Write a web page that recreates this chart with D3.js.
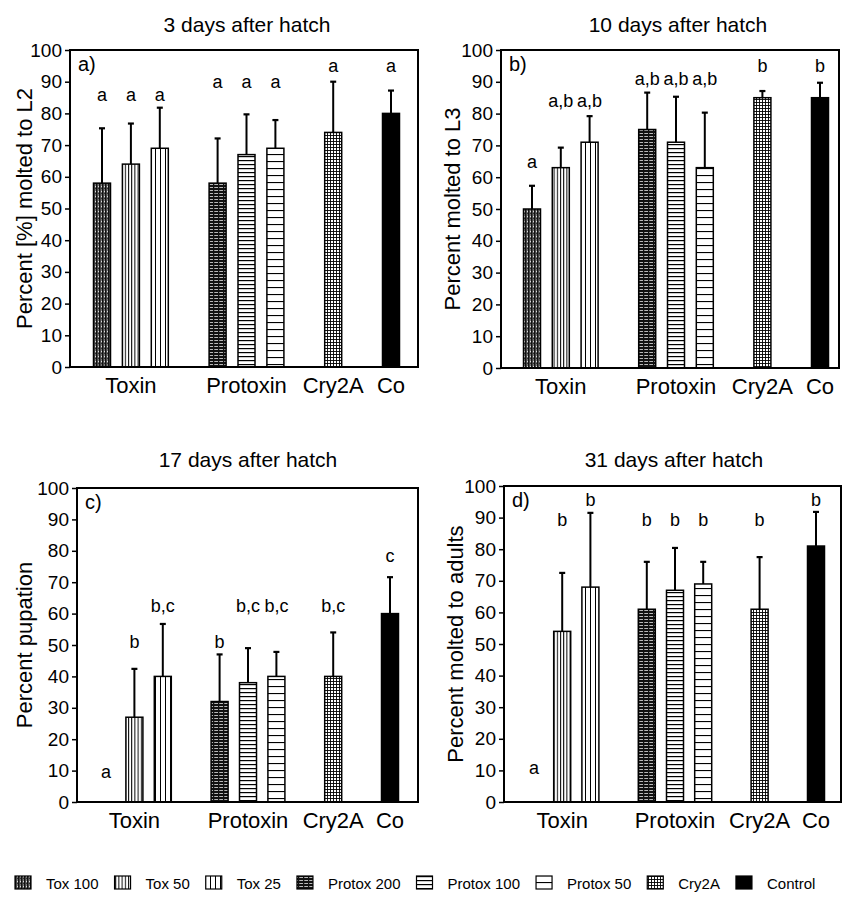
<!DOCTYPE html>
<html><head><meta charset="utf-8">
<script src="https://cdn.jsdelivr.net/npm/d3@7"></script>
<style>
body{margin:0;background:#fff}
svg{display:block}
text{font-family:"Liberation Sans",Arial,Helvetica,sans-serif;fill:#000}
</style>
</head><body>
<svg id="chart" width="842" height="903"></svg>
<script>
// ---------- data ----------
const treatments = ['Tox 100','Tox 50','Tox 25','Protox 200','Protox 100','Protox 50','Cry2A','Control'];
const treatmentGroup = ['Toxin','Toxin','Toxin','Protoxin','Protoxin','Protoxin','Cry2A','Co'];
const groupLabels = ['Toxin','Protoxin','Cry2A','Co'];
const yTicks = [0,10,20,30,40,50,60,70,80,90,100];

// a) 3 days after hatch – percent molted to L2
const meanA    = [58, 64, 69, 58, 67, 69, 74, 80];
const errTopA  = [75.3, 76.8, 81.8, 72.1, 79.7, 77.9, 90, 87.2];
const lettersA = ['a','a','a','a','a','a','a','a'];
const letterHA = [84, 84, 84, 88, 88, 88, 93, 93];

// b) 10 days after hatch – percent molted to L3
const meanB    = [50, 63, 71, 75, 71, 63, 85, 85];
const errTopB  = [57.3, 69.3, 79.2, 86.6, 85.3, 80.3, 87.1, 89.7];
const lettersB = ['a','a,b','a,b','a,b','a,b','a,b','b','b'];
const letterHB = [63, 82, 82, 89, 89, 89, 93, 93];

// c) 17 days after hatch – percent pupation
const meanC    = [0, 27, 40, 32, 38, 40, 40, 60];
const errTopC  = [0, 42.4, 56.7, 47, 49, 47.8, 54, 71.6];
const lettersC = ['a','b','b,c','b','b,c','b,c','b,c','c'];
const letterHC = [7.6, 49, 60.5, 49, 60.5, 60.5, 60.5, 76.4];

// d) 31 days after hatch – percent molted to adults
const meanD    = [0, 54, 68, 61, 67, 69, 61, 81];
const errTopD  = [0, 72.5, 91.5, 76, 80.4, 76, 77.5, 91.8];
const lettersD = ['a','b','b','b','b','b','b','b'];
const letterHD = [9, 87.3, 93.7, 87.3, 87.3, 87.3, 87.3, 93.7];

// ---------- layout ----------
const panels = [
  {tag:'a)', title:'3 days after hatch',  ylabel:'Percent [%] molted to L2', mean:meanA, err:errTopA, letters:lettersA, letterH:letterHA,
   left:70, right:418, top:50, bottom:367, c0:102, c10:391, titleX:247, titleY:32, ylabX:32},
  {tag:'b)', title:'10 days after hatch', ylabel:'Percent molted to L3', mean:meanB, err:errTopB, letters:lettersB, letterH:letterHB,
   left:501, right:839, top:50, bottom:368, c0:532, c10:820, titleX:678, titleY:32, ylabX:460},
  {tag:'c)', title:'17 days after hatch', ylabel:'Percent pupation', mean:meanC, err:errTopC, letters:lettersC, letterH:letterHC,
   left:77, right:418, top:488, bottom:802, c0:106, c10:390, titleX:248, titleY:467, ylabX:32},
  {tag:'d)', title:'31 days after hatch', ylabel:'Percent molted to adults', mean:meanD, err:errTopD, letters:lettersD, letterH:letterHD,
   left:504, right:841, top:486, bottom:802, c0:534, c10:816, titleX:674, titleY:467, ylabX:463}
];

// slot index of each treatment: groups separated by one empty slot
const slotIndex = [];
{ let s = -1, prev = null;
  treatmentGroup.forEach(g => { s += (prev !== null && g !== prev) ? 2 : 1; prev = g; slotIndex.push(s); }); }
const groupSlot = groupLabels.map(g => d3.mean(slotIndex.filter((s,i)=>treatmentGroup[i]===g)));

const svg = d3.select('#chart');
svg.append('rect').attr('width',842).attr('height',903).attr('fill','#fff');

// ---------- patterns ----------
const defs = svg.append('defs');
function pat(id, w, h, build){
  const p = defs.append('pattern').attr('id',id).attr('patternUnits','userSpaceOnUse')
    .attr('width',w).attr('height',h);
  build(p);
}
const patternIds = ['p-tox100','p-tox50','p-tox25','p-pro200','p-pro100','p-pro50','p-cry','p-co'];
pat('p-tox100',3,5,p=>{
  p.append('rect').attr('width',3).attr('height',5).attr('fill','#7a7a7a');
  p.append('rect').attr('x',0).attr('width',1.5).attr('height',5).attr('fill','#111');
  p.append('rect').attr('x',2).attr('y',1).attr('width',1).attr('height',1).attr('fill','#ddd');
  p.append('rect').attr('x',2).attr('y',3).attr('width',1).attr('height',1).attr('fill','#333');
});
pat('p-tox50',3.2,4,p=>{
  p.append('rect').attr('width',3.2).attr('height',4).attr('fill','#fff');
  p.append('rect').attr('x',0).attr('width',1).attr('height',4).attr('fill','#000');
});
pat('p-tox25',5,4,p=>{
  p.append('rect').attr('width',5).attr('height',4).attr('fill','#fff');
  p.append('rect').attr('x',0).attr('width',1).attr('height',4).attr('fill','#000');
});
pat('p-pro200',5,3,p=>{
  p.append('rect').attr('width',5).attr('height',3).attr('fill','#111');
  p.append('rect').attr('y',1).attr('width',3).attr('height',0.9).attr('fill','#ccc');
  p.append('rect').attr('x',4).attr('y',1).attr('width',1).attr('height',0.9).attr('fill','#999');
});
pat('p-pro100',4,4,p=>{
  p.append('rect').attr('width',4).attr('height',4).attr('fill','#fff');
  p.append('rect').attr('y',0).attr('width',4).attr('height',1.2).attr('fill','#000');
});
pat('p-pro50',4,7,p=>{
  p.append('rect').attr('width',4).attr('height',7).attr('fill','#fff');
  p.append('rect').attr('y',0).attr('width',4).attr('height',1.1).attr('fill','#000');
});
pat('p-cry',3,3,p=>{
  p.append('rect').attr('width',3).attr('height',3).attr('fill','#fff');
  p.append('rect').attr('width',3).attr('height',0.9).attr('fill','#000');
  p.append('rect').attr('width',0.9).attr('height',3).attr('fill','#000');
});
pat('p-co',4,4,p=>{
  p.append('rect').attr('width',4).attr('height',4).attr('fill','#000');
});

// ---------- panels ----------
const barW = 17;
panels.forEach(P => {
  const g = svg.append('g');
  const y = d3.scaleLinear().domain([0,100]).range([P.bottom, P.top]);
  const x = d3.scaleLinear().domain([0,10]).range([P.c0, P.c10]);

  // title
  g.append('text').attr('x',P.titleX).attr('y',P.titleY).attr('text-anchor','middle')
    .attr('font-size',21).text(P.title);

  // y axis ticks + labels
  const yAxis = d3.axisLeft(y).tickValues(yTicks).tickSize(5).tickPadding(3).tickFormat(d3.format('d'));
  const ax = g.append('g').attr('transform',`translate(${P.left},0)`).call(yAxis);
  ax.select('.domain').remove();
  ax.selectAll('.tick line').attr('stroke','#000').attr('stroke-width',1.5);
  ax.selectAll('.tick text').attr('font-size',19).attr('font-family','"Liberation Sans",Arial,sans-serif').attr('fill','#000');

  // y label
  g.append('text')
    .attr('transform',`translate(${P.ylabX},${(P.top+P.bottom)/2}) rotate(-90)`)
    .attr('text-anchor','middle').attr('font-size',22).text(P.ylabel);

  // bars
  const idx = d3.range(treatments.length);
  g.selectAll('rect.bar').data(idx.filter(i=>P.mean[i]>0)).join('rect')
    .attr('class','bar')
    .attr('x', i => x(slotIndex[i]) - barW/2)
    .attr('width', barW)
    .attr('y', i => y(P.mean[i]))
    .attr('height', i => y(0) - y(P.mean[i]))
    .attr('fill', i => `url(#${patternIds[i]})`)
    .attr('stroke','#000').attr('stroke-width',1.5);

  // error bars (upper only)
  const eb = idx.filter(i=>P.mean[i]>0 && P.err[i]>P.mean[i]);
  g.selectAll('line.eb').data(eb).join('line').attr('class','eb')
    .attr('x1', i=>x(slotIndex[i])).attr('x2', i=>x(slotIndex[i]))
    .attr('y1', i=>y(P.mean[i])).attr('y2', i=>y(P.err[i]))
    .attr('stroke','#000').attr('stroke-width',2);
  g.selectAll('line.cap').data(eb).join('line').attr('class','cap')
    .attr('x1', i=>x(slotIndex[i])-3).attr('x2', i=>x(slotIndex[i])+3)
    .attr('y1', i=>y(P.err[i])).attr('y2', i=>y(P.err[i]))
    .attr('stroke','#000').attr('stroke-width',2.2);

  // significance letters
  g.selectAll('text.sig').data(idx).join('text').attr('class','sig')
    .attr('x', i=>x(slotIndex[i])).attr('y', i=>y(P.letterH[i]))
    .attr('text-anchor','middle').attr('font-size',18).text(i=>P.letters[i]);

  // frame
  g.append('rect').attr('x',P.left).attr('y',P.top)
    .attr('width',P.right-P.left).attr('height',P.bottom-P.top)
    .attr('fill','none').attr('stroke','#000').attr('stroke-width',2);

  // panel tag
  g.append('text').attr('x',P.left+8).attr('y',P.top+21).attr('font-size',20).text(P.tag);

  // group labels
  g.selectAll('text.grp').data(groupLabels).join('text').attr('class','grp')
    .attr('x',(d,k)=>x(groupSlot[k])).attr('y',P.bottom+26)
    .attr('text-anchor','middle').attr('font-size',22).text(d=>d);
});

// ---------- legend ----------
const leg = svg.append('g');
let lx = 15;
const legItems = [];
treatments.forEach((t,i) => {
  leg.append('rect').attr('x',lx).attr('y',876).attr('width',16).attr('height',13)
    .attr('fill',`url(#${patternIds[i]})`).attr('stroke','#000').attr('stroke-width',1.2);
  const tx = leg.append('text').attr('x',lx+31).attr('y',889).attr('font-size',15).text(t);
  lx = lx + 31 + tx.node().getComputedTextLength() + 16;
});
</script>
</body></html>
